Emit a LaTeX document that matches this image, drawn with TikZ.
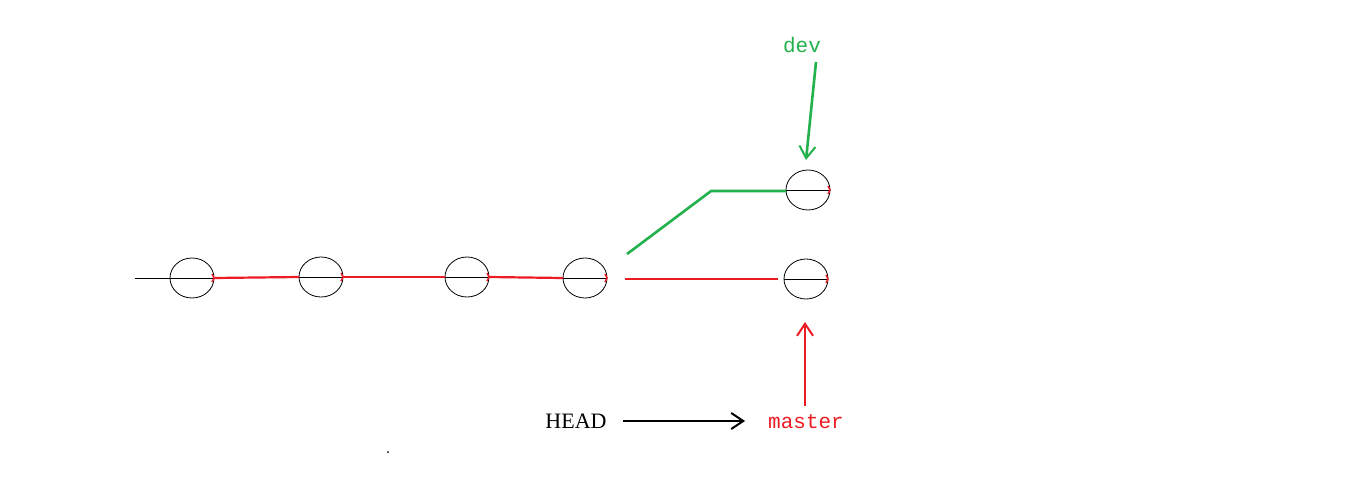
\documentclass[tikz,border=0pt]{standalone}
\usepackage{fontspec}
\setmainfont{Liberation Serif}
\newfontfamily\monof{Liberation Mono}
\usetikzlibrary{arrows.meta}
\definecolor{gr}{RGB}{34,177,76}
\definecolor{rd}{RGB}{237,28,36}
\begin{document}
\begin{tikzpicture}[x=1pt,y=-1pt,
  commit/.style={draw=black,ellipse,minimum width=44pt,minimum height=40pt,inner sep=0pt,line width=0.8pt},
  redline/.style={draw=rd,line width=2.2pt},
  grline/.style={draw=gr,line width=2.6pt},
  tip/.style={-{Straight Barb[length=12pt,width=16pt,line width=2pt]}}]
\fill[white] (0,0) rectangle (1367,490);
\useasboundingbox (0,0) rectangle (1367,490);
\foreach \n/\x/\y in {c1/192/278,c2/321/277,c3/467/277,c4/585/278,c5/806/279,c6/808/190}{
  \draw[line width=0.8pt] (\x,\y) ellipse (22 and 20);
  \coordinate (\n) at (\x,\y);
  \coordinate (\n w) at (\x-22,\y);
  \coordinate (\n e) at (\x+22,\y);
  \draw[line width=0.8pt] (\n w) -- (\n e);
  \draw[rd,line width=1.5pt] (\x+20,\y-4) -- (\x+22,\y) -- (\x+20,\y+4);
}
\coordinate (s) at (135,278);
\draw[line width=0.8pt] (s) -- (c1w);
\draw[redline] (c1e) -- (c2w);
\draw[redline] (c2e) -- (c3w);
\draw[redline] (c3e) -- (c4w);
\coordinate (r1) at (625,279); \coordinate (r2) at (778,279);
\draw[redline] (r1) -- (r2);
\coordinate (g1) at (627,254); \coordinate (g2) at (711,191); \coordinate (g3) at (786,191);
\draw[grline] (g1) -- (g2) -- (g3);
\node[text=gr,font=\monof\fontsize{21}{21}\selectfont] (dev) at (802,45) {dev};
\node[text=rd,font=\monof\fontsize{21}{21}\selectfont] (master) at (806,422) {master};
\node[font=\fontsize{22}{22}\selectfont] (head) at (576,421) {HEAD};
\coordinate (da) at (816,62); \coordinate (db) at (806,160);
\draw[gr,line width=2.6pt,tip] (da) -- (db);
\coordinate (ma) at (805,406); \coordinate (mb) at (805,322);
\draw[rd,line width=2.6pt,tip] (ma) -- (mb);
\coordinate (ha) at (623,421); \coordinate (hb) at (745,421);
\draw[black,line width=2.6pt,tip] (ha) -- (hb);
\fill (388,452) circle (1);
\end{tikzpicture}
\end{document}
